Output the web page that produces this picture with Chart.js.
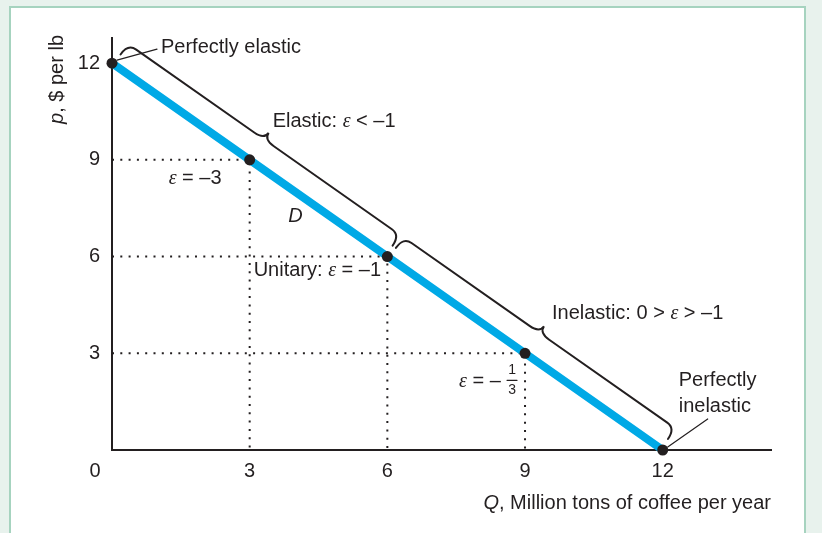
<!DOCTYPE html>
<html lang="en">
  <head>
    <meta charset="UTF-8" />
    <title>Elasticity along a linear demand curve</title>
    <script src="https://cdn.jsdelivr.net/npm/chart.js"></script>
    <style>
      html,
      body {
        margin: 0;
        padding: 0;
        background: #e8f2ed;
      }
      body {
        width: 822px;
        height: 533px;
        position: relative;
        overflow: hidden;
      }
      .panel {
        position: absolute;
        left: 9px;
        top: 6px;
        width: 797px;
        height: 560px;
        background: #fff;
        border: 2px solid #a6d3bf;
        box-sizing: border-box;
      }
      #demandChart {
        position: absolute;
        left: 0;
        top: 0;
      }
    </style>
  </head>

  <body>
    <div class="panel"></div>
    <canvas id="demandChart" width="822" height="533"></canvas>

    <script>
      // Demand curve for coffee: quantity (million tons) and price ($ per lb)
      const quantity = [0, 3, 6, 9, 12];
      const price = [12, 9, 6, 3, 0];
      const xTicks = [3, 6, 9, 12];
      const yTicks = [3, 6, 9, 12];
      // points that get dotted guide lines to the axes
      const guidePoints = [1, 2, 3];

      const INK = "#231f20";
      const BLUE = "#00a9e6";
      const SANS = "'Liberation Sans', Arial, sans-serif";
      const sans = (s) => `${s}px ${SANS}`;
      const ital = (s) => `italic ${s}px ${SANS}`;
      const eps = (s) => `italic ${s}px 'Liberation Serif', 'DejaVu Serif', serif`;

      // draw text made of runs with different fonts, starting at x
      function drawRuns(ctx, runs, x, y) {
        ctx.textAlign = "left";
        ctx.textBaseline = "middle";
        runs.forEach(([t, f]) => {
          ctx.font = f;
          ctx.fillText(t, x, y);
          x += ctx.measureText(t).width;
        });
        return x;
      }
      function runsWidth(ctx, runs) {
        let w = 0;
        runs.forEach(([t, f]) => {
          ctx.font = f;
          w += ctx.measureText(t).width;
        });
        return w;
      }

      // curly brace along segment A-B, bulging to normal n
      function brace(ctx, A, B, u, n) {
        const at = (p, a, h) => [p.x + u.x * a + n.x * h, p.y + u.y * a + n.y * h];
        const M = { x: (A.x + B.x) / 2, y: (A.y + B.y) / 2 };
        ctx.beginPath();
        ctx.moveTo(...at(A, 2, 12));
        ctx.quadraticCurveTo(...at(A, 2, 25), ...at(A, 12, 25));
        ctx.lineTo(...at(M, -12, 25));
        ctx.quadraticCurveTo(...at(M, 0, 25), ...at(M, 0, 33));
        ctx.quadraticCurveTo(...at(M, 0, 25), ...at(M, 12, 25));
        ctx.lineTo(...at(B, -12, 25));
        ctx.quadraticCurveTo(...at(B, -2, 25), ...at(B, -2, 12));
        ctx.stroke();
        return { x: M.x + n.x * 33, y: M.y + n.y * 33 };
      }

      const annotations = {
        id: "annotations",
        afterDatasetsDraw(chart) {
          const { ctx, chartArea, scales } = chart;
          const P = quantity.map((q, i) => ({
            x: scales.x.getPixelForValue(q),
            y: scales.y.getPixelForValue(price[i]),
          }));
          const dx = P[4].x - P[0].x;
          const dy = P[4].y - P[0].y;
          const len = Math.hypot(dx, dy);
          const u = { x: dx / len, y: dy / len };
          const n = { x: dy / len, y: -dx / len };

          ctx.save();
          ctx.strokeStyle = INK;
          ctx.fillStyle = INK;
          ctx.lineWidth = 2;
          ctx.lineCap = "round";
          const tipElastic = brace(ctx, P[0], P[2], u, n);
          const tipInelastic = brace(ctx, P[2], P[4], u, n);

          // leader lines
          ctx.lineWidth = 1.2;
          ctx.beginPath();
          ctx.moveTo(P[0].x + 5, P[0].y - 3);
          ctx.lineTo(P[0].x + 45, P[0].y - 14);
          ctx.moveTo(P[4].x + 5, P[4].y - 3);
          ctx.lineTo(P[4].x + 45, P[4].y - 31);
          ctx.stroke();

          const S = 20;
          drawRuns(ctx, [["Perfectly elastic", sans(S)]], P[0].x + 49, P[0].y - 16);
          drawRuns(
            ctx,
            [["Elastic: ", sans(S)], ["ε", eps(S)], [" < –1", sans(S)]],
            tipElastic.x + 4,
            tipElastic.y - 11
          );
          drawRuns(
            ctx,
            [["Inelastic: 0 > ", sans(S)], ["ε", eps(S)], [" > –1", sans(S)]],
            tipInelastic.x + 8,
            tipInelastic.y - 13
          );
          drawRuns(ctx, [["ε", eps(S)], [" = –3", sans(S)]], P[1].x - 81, P[1].y + 19);
          drawRuns(
            ctx,
            [["Unitary: ", sans(S)], ["ε", eps(S)], [" = –1", sans(S)]],
            P[1].x + 4,
            P[2].y + 14
          );
          drawRuns(ctx, [["ε", eps(S)], [" = –", sans(S)]], P[3].x - 66, P[3].y + 28);
          // fraction 1/3
          ctx.textAlign = "center";
          ctx.font = sans(14);
          ctx.fillText("1", P[3].x - 13, P[3].y + 17);
          ctx.fillText("3", P[3].x - 13, P[3].y + 37);
          ctx.lineWidth = 1.2;
          ctx.beginPath();
          ctx.moveTo(P[3].x - 18, P[3].y + 27);
          ctx.lineTo(P[3].x - 8, P[3].y + 27);
          ctx.stroke();

          drawRuns(ctx, [["Perfectly", sans(S)]], P[4].x + 16, P[4].y - 70);
          drawRuns(ctx, [["inelastic", sans(S)]], P[4].x + 16, P[4].y - 44);

          // curve label
          ctx.textAlign = "center";
          ctx.font = ital(S);
          ctx.fillText("D", (P[1].x + P[2].x) / 2 - 23, (P[1].y + P[2].y) / 2 + 8);

          // origin label
          ctx.font = sans(S);
          ctx.fillText("0", chartArea.left - 17, chartArea.bottom + 21);

          // x axis title, right aligned
          const xt = [["Q", ital(S)], [", Million tons of coffee per year", sans(S)]];
          drawRuns(ctx, xt, chartArea.right - runsWidth(ctx, xt), chartArea.bottom + 53);

          // y axis title, rotated, ending at the top of the axis
          const yt = [["p", ital(S)], [", $ per lb", sans(S)]];
          ctx.translate(chartArea.left - 55, chartArea.top - 3 + runsWidth(ctx, yt));
          ctx.rotate(-Math.PI / 2);
          drawRuns(ctx, yt, 0, 0);
          ctx.restore();
        },
      };

      const curve = quantity.map((q, i) => ({ x: q, y: price[i] }));
      const guides = guidePoints.map((i) => ({
        data: [
          { x: 0, y: price[i] },
          { x: quantity[i], y: price[i] },
          { x: quantity[i], y: 0 },
        ],
        borderColor: INK,
        borderWidth: 2,
        borderDash: [2, 6.3],
        pointRadius: 0,
        clip: false,
        order: 2,
      }));

      const ctx = document.getElementById("demandChart").getContext("2d");
      new Chart(ctx, {
        type: "line",
        data: {
          datasets: [
            {
              label: "D",
              data: curve,
              borderColor: BLUE,
              borderWidth: 8,
              borderCapStyle: "butt",
              pointRadius: 0,
              clip: false,
              order: 1,
            },
            {
              label: "points",
              type: "scatter",
              data: curve,
              pointRadius: 5.5,
              backgroundColor: INK,
              borderWidth: 0,
              clip: false,
              order: 0,
            },
            ...guides,
          ],
        },
        options: {
          responsive: false,
          animation: false,
          events: [],
          layout: { padding: { top: 38, right: 51, left: 0, bottom: 0 } },
          plugins: { legend: { display: false }, tooltip: { enabled: false } },
          scales: {
            x: {
              type: "linear",
              min: 0,
              max: 14.36,
              grid: { display: false, drawTicks: false },
              border: { color: INK, width: 2 },
              ticks: { padding: 9, color: INK, font: { size: 20, family: SANS } },
              afterBuildTicks: (s) => {
                s.ticks = xTicks.map((v) => ({ value: v }));
              },
              afterFit: (s) => {
                s.height = 83;
              },
            },
            y: {
              type: "linear",
              min: 0,
              max: 12.78,
              grid: { display: false, drawTicks: false },
              border: { color: INK, width: 2 },
              ticks: { padding: 12, color: INK, font: { size: 20, family: SANS } },
              afterBuildTicks: (s) => {
                s.ticks = yTicks.map((v) => ({ value: v }));
              },
              afterFit: (s) => {
                s.width = 112;
              },
            },
          },
        },
        plugins: [annotations],
      });
    </script>
  </body>
</html>
